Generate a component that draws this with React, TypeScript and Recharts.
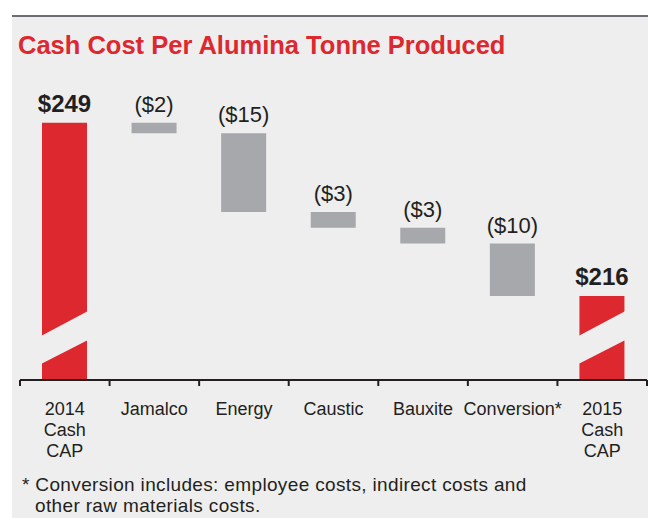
import React from "react"
import { BarChart, Bar, XAxis, YAxis, LabelList } from "recharts"

const categories = ["2014 Cash CAP", "Jamalco", "Energy", "Caustic", "Bauxite", "Conversion*", "2015 Cash CAP"]
const tickLines = [["2014", "Cash", "CAP"], ["Jamalco"], ["Energy"], ["Caustic"], ["Bauxite"], ["Conversion*"], ["2015", "Cash", "CAP"]]
const values = [249, -2, -15, -3, -3, -10, 216]
const isTotal = [true, false, false, false, false, false, true]
// broken axis: bottom of the plot stands for $200
const axisFloor = 200
const axisCeil = 260

const RED = "#dc282e"
const GREY = "#a7a8ab"
const BG = "#eeeeee"
const INK = "#231f20"
const FONT = "'Liberation Sans', Arial, Helvetica, sans-serif"

let running = 0
const chartData = categories.map((name, i) => {
  let range: [number, number]
  if (isTotal[i]) {
    range = [axisFloor, values[i]]
    running = values[i]
  } else {
    range = [running + values[i], running]
    running = running + values[i]
  }
  const label = isTotal[i] ? `$${values[i]}` : `($${Math.abs(values[i])})`
  return { name, range, label, total: isTotal[i] }
})

function WaterfallBar(props: any) {
  const { x, width, payload } = props
  const top = Math.min(props.y, props.y + props.height)
  const h = Math.abs(props.height)
  if (!payload.total) {
    return <rect x={x} y={top} width={width} height={h} fill={GREY} />
  }
  const bottom = top + h
  // diagonal break band across the column
  const band = `${x - 1},${bottom - 44} ${x + width + 1},${bottom - 69} ${x + width + 1},${bottom - 40} ${x - 1},${bottom - 16}`
  return (
    <g>
      <rect x={x} y={top} width={width} height={h} fill={RED} />
      <polygon points={band} fill={BG} />
    </g>
  )
}

function ValueLabel(props: any) {
  const { x, y, width, height, value, index } = props
  const top = Math.min(y, y + height)
  const bold = isTotal[index]
  return (
    <text
      x={x + width / 2}
      y={top - 11}
      textAnchor="middle"
      fill={INK}
      fontFamily={FONT}
      fontSize={bold ? 24 : 22}
      fontWeight={bold ? 700 : 400}
    >
      {value}
    </text>
  )
}

function CategoryTick(props: any) {
  const { x, y, payload, index } = props
  const half = payload?.offset || 44.8
  const lines = tickLines[index] ?? [payload.value]
  return (
    <g>
      <line x1={x - half} y1={y} x2={x - half} y2={y + 6} stroke={INK} strokeWidth={2} />
      {index === categories.length - 1 && (
        <line x1={x + half} y1={y} x2={x + half} y2={y + 6} stroke={INK} strokeWidth={2} />
      )}
      <text textAnchor="middle" fill={INK} fontFamily={FONT} fontSize={18}>
        {lines.map((t: string, i: number) => (
          <tspan key={i} x={x} y={y + 35 + i * 21}>
            {t}
          </tspan>
        ))}
      </text>
    </g>
  )
}

export default function App() {
  return (
    <div style={{ position: "relative", width: 648, height: 518, background: "#fff", overflow: "hidden" }}>
      <style>{`body{margin:0}`}</style>
      <div style={{ position: "absolute", left: 12, top: 17, width: 636, height: 501, background: BG }} />
      <div style={{ position: "absolute", left: 12, top: 15, width: 636, height: 2, background: "#6d6e71" }} />
      <div style={{ position: "absolute", left: 0, top: 0 }}>
        <BarChart
          width={648}
          height={518}
          data={chartData}
          margin={{ top: 65, right: 1, left: 20, bottom: 0 }}
          barSize={45}
        >
          <XAxis
            dataKey="name"
            interval={0}
            height={138}
            tickSize={0}
            tickMargin={0}
            tickLine={false}
            axisLine={{ stroke: INK, strokeWidth: 2 }}
            tick={CategoryTick}
          />
          <YAxis hide type="number" domain={[axisFloor, axisCeil]} allowDataOverflow />
          <Bar dataKey="range" shape={WaterfallBar} isAnimationActive={false}>
            <LabelList dataKey="label" content={ValueLabel} />
          </Bar>
        </BarChart>
      </div>
      <div
        style={{
          position: "absolute",
          left: 18,
          top: 33,
          fontFamily: FONT,
          fontSize: 25.5,
          lineHeight: "25.5px",
          fontWeight: 700,
          color: RED,
          whiteSpace: "nowrap",
        }}
      >
        Cash Cost Per Alumina Tonne Produced
      </div>
      <div
        style={{
          position: "absolute",
          left: 22,
          top: 474,
          fontFamily: FONT,
          fontSize: 19,
          lineHeight: "21px",
          letterSpacing: 0.35,
          color: INK,
          whiteSpace: "nowrap",
        }}
      >
        <div>* Conversion includes: employee costs, indirect costs and</div>
        <div style={{ paddingLeft: 13 }}>other raw materials costs.</div>
      </div>
    </div>
  )
}
